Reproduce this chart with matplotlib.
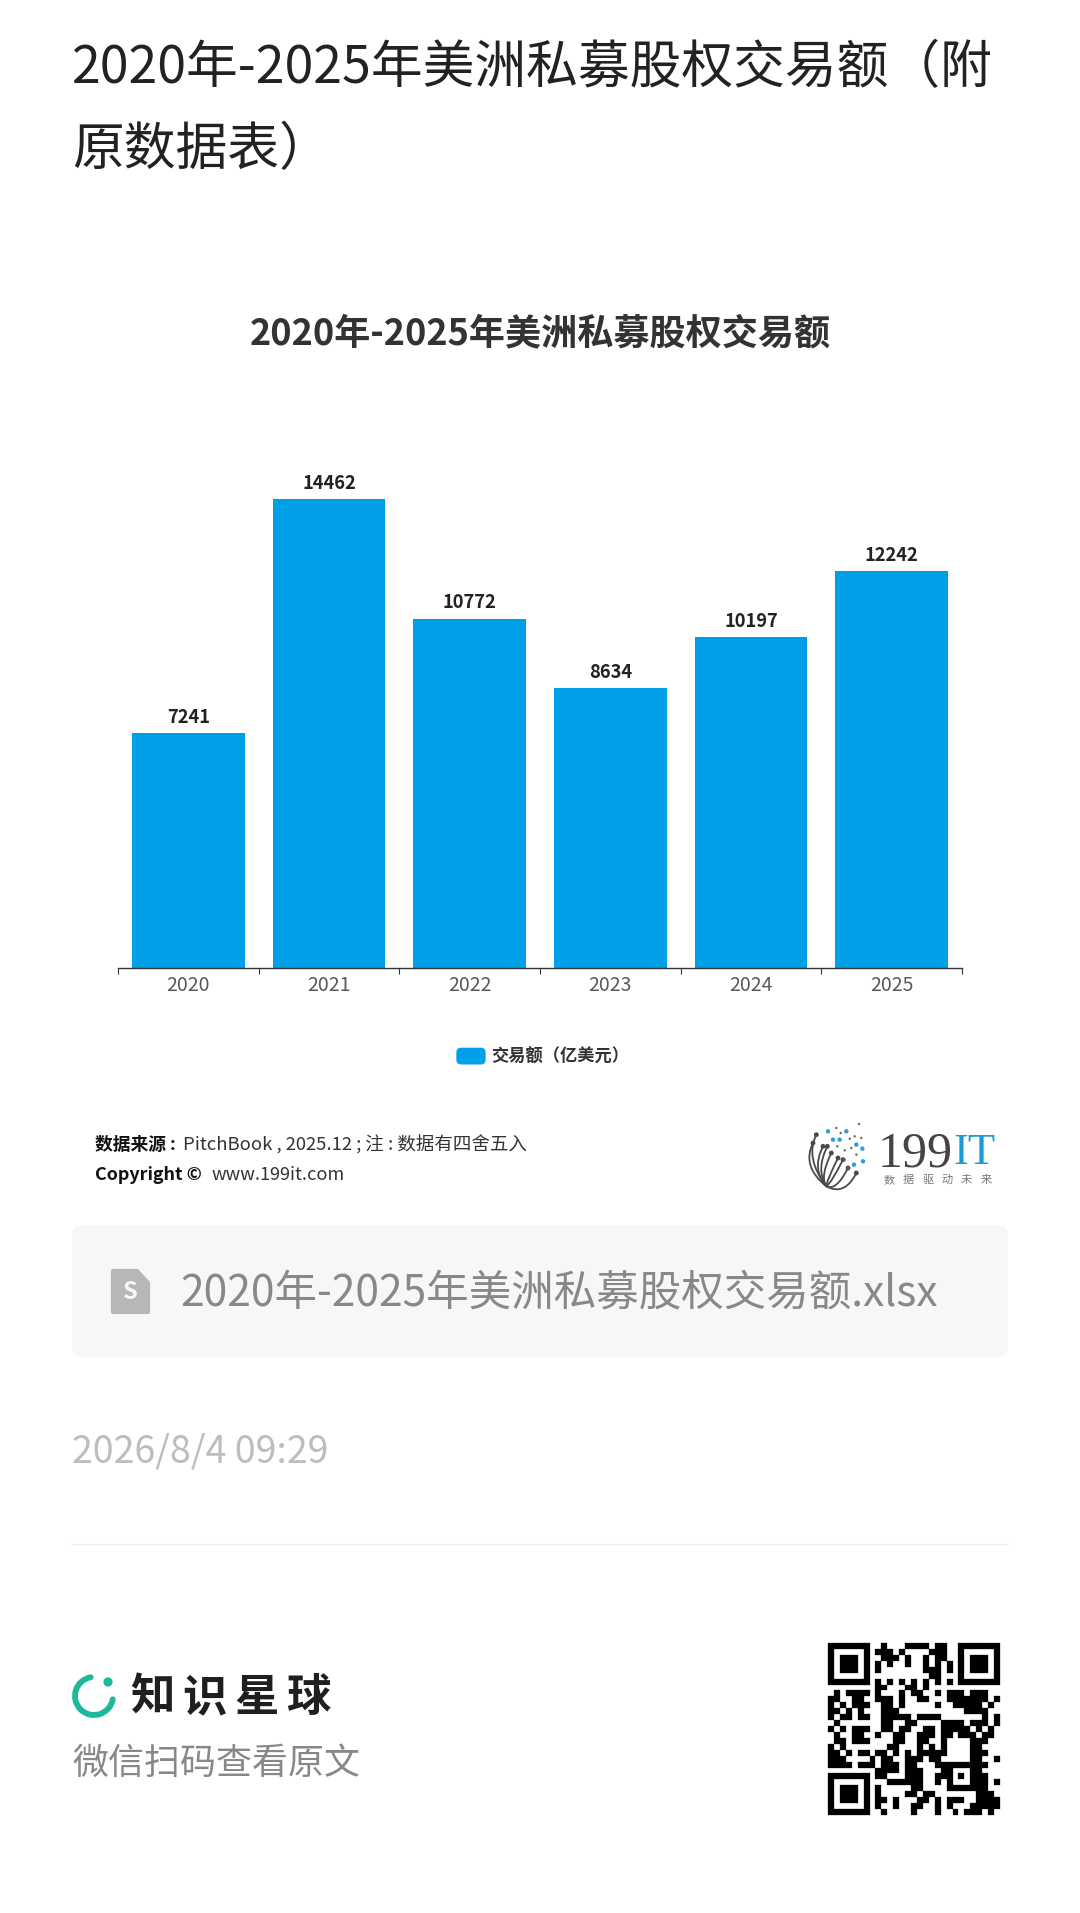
import matplotlib
matplotlib.use('Agg')
import matplotlib.pyplot as plt
from matplotlib.patches import Patch, FancyBboxPatch, Arc, Circle, Polygon, PathPatch, Rectangle
from matplotlib.legend_handler import HandlerPatch
from matplotlib.path import Path

plt.rcParams['font.family'] = ['Noto Sans CJK SC', 'DejaVu Sans']

years = ['2020', '2021', '2022', '2023', '2024', '2025']
deals = [7241, 14462, 10772, 8634, 10197, 12242]
series_name = '交易额（亿美元）'
chart_title = '2020年-2025年美洲私募股权交易额'
page_title = ['2020年-2025年美洲私募股权交易额（附', '原数据表）']
file_name = '2020年-2025年美洲私募股权交易额.xlsx'
stamp = '2026/8/4 09:29'

BLUE = '#00a0e9'
W, H = 1080, 1913

# qr modules (version 3, 29x29)
qr_rows = [
    '1111111' + '001000111101100' + '1111111',
    '1000001' + '011101000011100' + '1000001',
    '1011101' + '001110100101100' + '1011101',
    '1011101' + '010100100101010' + '1011101',
    '1011101' + '010000000111010' + '1011101',
    '1000001' + '000000000011000' + '1000001',
    '1111111' + '010101010101010' + '1111111',
    '00000000' + '110001101' + '000000000000',
    '0101111' + '0100010110010111011100',
    '1100110' + '0111010011000111111101',
    '1010111' + '0011010000010011111010',
    '1101010' + '0011100000000000111100',
    '1011011' + '0011111011110000000101',
    '0100000' + '0011001100001111011101',
    '1010111' + '0011011001101111101010',
    '0100110' + '0100110011101101110110',
    '0110111' + '0000110011001000011100',
    '1010000' + '0001100010101000011000',
    '1101011' + '0110101011111000011100',
    '1110000' + '1011001110110000011001',
    '1111011' + '1011101100011111111100',
    '00000000' + '111101110001100011000',
    '1111111' + '0110001110011101011100',
    '1000001' + '0001111110010100011101',
    '1011101' + '0100000110000111111100',
    '1011101' + '0100001101100000001110',
    '1011101' + '0110100011010111001111',
    '1000001' + '0100100110010100011111',
    '1111111' + '0010000100010010111010',
]

fig = plt.figure(figsize=(W / 100, H / 100), dpi=100, facecolor='white')

# whole page in pixel coords
page = fig.add_axes([0, 0, 1, 1])
page.set_xlim(0, W)
page.set_ylim(H, 0)
page.axis('off')

page.text(72, 68, page_title[0], fontsize=37.3, color='#222222', va='center')
page.text(72, 150, page_title[1], fontsize=37.3, color='#222222', va='center')
page.text(540, 334, chart_title, fontsize=26, fontweight='bold', color='#333333', ha='center', va='center')

# chart
base_y = 968
px_per_unit = 0.03243
top_y = 400
ax = fig.add_axes([118 / W, (H - base_y) / H, 844 / W, (base_y - top_y) / H])
ax.patch.set_alpha(0)
ax.set_ylim(0, (base_y - top_y) / px_per_unit)
ax.set_xlim(-0.5, 5.5)
bars = ax.bar(range(len(years)), deals, width=0.8, color=BLUE, label=series_name)
ax.bar_label(bars, fmt='%d', fontsize=13.2, fontweight='bold', color='#222222', padding=4.5)
for s in ['top', 'left', 'right']:
    ax.spines[s].set_visible(False)
ax.spines['bottom'].set_color('#333333')
ax.spines['bottom'].set_linewidth(1)
ax.set_yticks([])
ax.set_xticks([i - 0.5 for i in range(7)])
ax.set_xticklabels([])
ax.tick_params(axis='x', which='major', length=4.2, width=0.8, color='#333333')
ax.set_xticks(range(len(years)), minor=True)
ax.set_xticklabels(years, minor=True)
ax.tick_params(axis='x', which='minor', length=0, pad=5, labelsize=14, labelcolor='#595959')


def round_handle(legend, orig_handle, xdescent, ydescent, width, height, fontsize):
    return FancyBboxPatch((-xdescent, -ydescent), width, height,
                          boxstyle='round,pad=0,rounding_size=3')


ax.legend(handles=[Patch(color=BLUE, label=series_name)],
          handler_map={Patch: HandlerPatch(patch_func=round_handle)},
          loc='center', bbox_to_anchor=(543 / W, 1 - 1057 / H), bbox_transform=fig.transFigure,
          frameon=False, handlelength=1.62, handleheight=1.0, handletextpad=0.35,
          prop={'size': 12.4, 'weight': 'bold'}, labelcolor='#333333')

# source lines
page.text(95, 1145, '数据来源 :', fontsize=12.8, fontweight='bold', color='#111111', va='center')
page.text(183, 1145, 'PitchBook , 2025.12 ; 注 : 数据有四舍五入', fontsize=13.3, color='#333333', va='center')
page.text(95, 1175, 'Copyright ©', fontsize=12.9, fontweight='bold', color='#111111', va='center')
page.text(212, 1175, 'www.199it.com', fontsize=13.1, color='#333333', va='center')

# 199IT logo
logo_ends = [(55, 50), (45, 75), (75, 85), (88, 85), (100, 105), (120, 120), (135, 125), (150, 150), (175, 165)]
logo_blue = [(90, 40), (145, 40), (125, 65), (105, 65), (193, 92), (168, 140), (195, 130), (175, 80)]
logo_grey = [(115, 30), (183, 18), (128, 45), (170, 55), (190, 60), (155, 62), (118, 85), (160, 90), (140, 97),
             (175, 110), (140, 125), (150, 150)]


def lx(z):
    return 798 + z / 3


def ly(z):
    return 1118 + z / 3


for ex, ey in logo_ends:
    verts = [(lx(85), ly(205)), (lx(ex - 35), ly(ey + 70)), (lx(ex), ly(ey))]
    page.add_patch(PathPatch(Path(verts, [Path.MOVETO, Path.CURVE3, Path.CURVE3]),
                             fc='none', ec='#4a4a4a', lw=1.3))
    page.add_patch(Circle((lx(ex), ly(ey)), 2.4, color='#4a4a4a', lw=0))
for ex, ey in logo_blue:
    page.add_patch(Circle((lx(ex), ly(ey)), 2.2, color='#2d9fd8', lw=0))
for ex, ey in logo_grey:
    page.add_patch(Circle((lx(ex), ly(ey)), 1.2, color='#666666', lw=0))
page.text(878, 1154, '199', fontsize=36, family='Liberation Serif', color='#444444', va='center')
page.text(953, 1153, 'IT', fontsize=32, family='Liberation Serif', color='#1a9ad6', va='center')
for i, ch in enumerate('数据驱动未来'):
    page.text(889 + i * 19.4, 1180, ch, fontsize=8, color='#777777', ha='center', va='center')

# file box
page.add_patch(FancyBboxPatch((72, 1225), 936, 132, boxstyle='round,pad=0,rounding_size=10', fc='#f7f7f7', ec='none'))
page.add_patch(Polygon([(113, 1271), (137, 1271), (148, 1283), (148, 1312), (113, 1312)], closed=True,
                       fc='#b7b7b7', ec='#b7b7b7', lw=3, joinstyle='round'))
page.text(130.5, 1292, 'S', fontsize=17, fontweight='bold', color='#f7f7f7', ha='center', va='center')
page.text(180, 1294, file_name, fontsize=30.6, color='#888888', va='center')

page.text(72, 1452, stamp, fontsize=27, color='#bdbdbd', va='center')
page.plot([72, 1008], [1544, 1544], color='#eeeeee', lw=1)

# planet logo
page.add_patch(Arc((94, 1696), 38, 38, theta1=10, theta2=260, color='#1db89a', lw=4.2, capstyle='round'))
page.add_patch(Circle((108, 1682), 4.6, color='#1db89a', lw=0))
for cx, ch in zip([152, 205, 257, 308], '知识星球'):
    page.text(cx, 1698, ch, fontsize=32, fontweight='bold', color='#1f1f1f', ha='center', va='center')
page.text(72, 1764, '微信扫码查看原文', fontsize=25.9, color='#888888', va='center')

# qr
qr_x, qr_y, cell = 828, 1643, 172 / 29
for r, row in enumerate(qr_rows):
    for c, v in enumerate(row):
        if v == '1':
            page.add_patch(Rectangle((qr_x + c * cell, qr_y + r * cell), cell, cell, fc='black', ec='black', lw=0.2))

fig.savefig('out.png', dpi=100)
